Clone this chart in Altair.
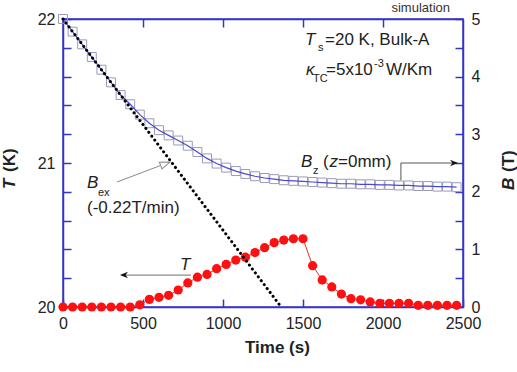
import altair as alt
import pandas as pd

FONT = "Liberation Sans"
BLUE_AXIS = "#3434c6"
BLUE_LINE = "#4a4ad0"
SQUARE_EDGE = "#9a9ab4"
RED = "#ff1010"
GREY = "#8a8a8a"
DARK = "#222222"

# simulated time grid (s)
time_s = [0, 60, 120, 180, 240, 300, 360, 420, 480, 540, 600, 660, 720, 780,
          840, 900, 960, 1020, 1080, 1140, 1200, 1260, 1320, 1380, 1440, 1500,
          1560, 1620, 1680, 1740, 1800, 1860, 1920, 1980, 2040, 2100, 2160,
          2220, 2280, 2340, 2400, 2460]

# bulk temperature T (K)
temp_K = [20.000, 20.000, 20.000, 20.000, 20.000, 20.000, 20.000, 20.000,
          20.015, 20.053, 20.067, 20.081, 20.118, 20.167, 20.207, 20.226,
          20.266, 20.296, 20.326, 20.346, 20.378, 20.412, 20.447, 20.465,
          20.474, 20.474, 20.287, 20.188, 20.139, 20.090, 20.058, 20.050,
          20.035, 20.026, 20.026, 20.026, 20.026, 20.012, 20.012, 20.012,
          20.012, 20.012]

# trapped field B_z at z = 0 mm (T)
bz_T = [5.00, 4.78, 4.56, 4.34, 4.12, 3.90, 3.68, 3.52, 3.34, 3.19, 3.07,
        2.98, 2.89, 2.80, 2.69, 2.58, 2.49, 2.42, 2.36, 2.31, 2.27, 2.24,
        2.22, 2.20, 2.19, 2.18, 2.17, 2.16, 2.15, 2.14, 2.14, 2.13, 2.13,
        2.12, 2.12, 2.11, 2.11, 2.10, 2.10, 2.09, 2.09, 2.08]

# external field ramp: starts at 5 T, falls at 0.22 T/min
bex_start_T = 5.0
bex_rate_T_per_min = 0.22
bex_end_s = bex_start_T / bex_rate_T_per_min * 60.0

x_ticks = [0, 500, 1000, 1500, 2000, 2500]
top_ticks = [500, 1000, 1500, 2000]
t_ticks = [20.0, 20.2, 20.4, 20.6, 20.8, 21.0, 21.2, 21.4, 21.6, 21.8, 22.0]
b_ticks = [0, 0.5, 1, 1.5, 2, 2.5, 3, 3.5, 4, 4.5, 5]

series = pd.DataFrame({"time": time_s, "T": temp_K, "B": bz_T})
bex = pd.DataFrame({"time": [0.0, bex_end_s], "B": [bex_start_T, 0.0]})

INT_ONLY = "abs(datum.value - round(datum.value)) < 1e-6 ? format(datum.value, 'd') : ''"


def axis(**kw):
    base = dict(domainColor=BLUE_AXIS, domainWidth=1.5, tickColor=BLUE_AXIS,
                tickWidth=1.5, tickSize={"expr": "-8"}, labelFont=FONT,
                labelFontSize=16, labelColor=DARK, labelPadding=16, grid=False,
                labelFlush=False, labelOverlap=False, title="")
    base.update(kw)
    return alt.Axis(**base)


x_scale = alt.Scale(domain=[0, 2500], nice=False, zero=False)
t_scale = alt.Scale(domain=[20, 22], nice=False, zero=False)
b_scale = alt.Scale(domain=[0, 5], nice=False, zero=False)

x_axis_bottom = axis(orient="bottom", values=x_ticks, format="d")
x_axis_top = axis(orient="top", values=top_ticks, labels=False)
t_axis = axis(orient="left", values=t_ticks, labelExpr=INT_ONLY)
b_axis = axis(orient="right", values=b_ticks, labelExpr=INT_ONLY)


def enc(yfield):
    if yfield == "T":
        return dict(x=alt.X("time:Q", scale=x_scale, axis=x_axis_bottom),
                    y=alt.Y("T:Q", scale=t_scale, axis=t_axis))
    return dict(x=alt.X("time:Q", scale=x_scale, axis=None),
                y=alt.Y("B:Q", scale=b_scale, axis=b_axis))


def text_piece(yfield, t, v, s, **kw):
    df = pd.DataFrame({"time": [t], yfield: [v], "label": [s]})
    style = dict(align="left", baseline="alphabetic", font=FONT, fontSize=17,
                 color=DARK)
    style.update(kw)
    return alt.Chart(df).mark_text(**style).encode(text="label:N", **enc(yfield))


def polyline(yfield, ts, vs, color, width=1.0):
    df = pd.DataFrame({"time": ts, yfield: vs, "k": list(range(len(ts)))})
    return alt.Chart(df).mark_line(color=color, strokeWidth=width).encode(
        order="k:O", **enc(yfield))


BARB = "M0,0L-2,-0.8L-1.4,0L-2,0.8Z"
OPEN = "M0,0L-2,-0.7L-2,0.7Z"


def head(yfield, t, v, shape, angle, size, **kw):
    df = pd.DataFrame({"time": [t], yfield: [v]})
    return alt.Chart(df).mark_point(shape=shape, angle=angle, size=size,
                                    opacity=1, **kw).encode(**enc(yfield))


# ---- temperature (left axis) ----
t_line = alt.Chart(series).mark_line(color="#e03030", strokeWidth=1).encode(**enc("T"))
t_pts = alt.Chart(series).mark_point(shape="circle", filled=True, size=85,
                                     color=RED, opacity=1).encode(**enc("T"))
temp_layer = alt.layer(
    t_line,
    t_pts,
    polyline("T", [800, 378], [20.222, 20.222], GREY, 1.2),
    head("T", 356, 20.222, BARB, 180, 64, filled=True, color="#111111"),
    text_piece("T", 731, 20.257, "T", fontStyle="italic"),
    # left axis title
    text_piece("T", -300, 20.819, "T", angle=270, fontWeight="bold", fontStyle="italic"),
    text_piece("T", -300, 20.9375, "(K)", angle=270, fontWeight="bold"),
    # bottom axis title
    text_piece("T", 1137.5, 19.681, "Time (s)", fontWeight="bold"),
)

# ---- magnetic field (right axis) ----
b_sq = alt.Chart(series).mark_point(shape="square", filled=False, size=80,
                                    color=SQUARE_EDGE, strokeWidth=1,
                                    opacity=1).encode(**enc("B"))
b_line = alt.Chart(series).mark_line(color=BLUE_LINE, strokeWidth=1.2).encode(**enc("B"))
bex_line = alt.Chart(bex).mark_line(color="black", strokeWidth=3,
                                    strokeDash=[0.1, 4.8], strokeCap="round").encode(**enc("B"))

field_layer = alt.layer(
    b_sq,
    b_line,
    bex_line,
    # B_ex label and pointer
    polyline("B", [337.5, 610], [2.17, 2.457], GREY, 1.0),
    head("B", 669, 2.517, OPEN, 339.3, 100, filled=True, fill="white",
         stroke=GREY, strokeWidth=1),
    text_piece("B", 150, 2.066, "B", fontStyle="italic"),
    text_piece("B", 218.75, 1.927, "ex", fontSize=11),
    text_piece("B", 150, 1.632, "(-0.22T/min)"),
    # B_z label and bracket
    polyline("B", [2112, 2112, 2460], [2.2, 2.5, 2.5], "#555555", 1.0),
    head("B", 2469, 2.5, BARB, 0, 64, filled=True, color="#111111"),
    text_piece("B", 1487.5, 2.431, "B", fontStyle="italic"),
    text_piece("B", 1562.5, 2.309, "z", fontSize=11),
    text_piece("B", 1625, 2.431, "("),
    text_piece("B", 1665.6, 2.431, "z", fontStyle="italic"),
    text_piece("B", 1718.75, 2.431, "=0mm)"),
    # conditions
    text_piece("B", 1512.5, 4.549, "T", fontStyle="italic"),
    text_piece("B", 1593.75, 4.444, "s", fontSize=11),
    text_piece("B", 1637.5, 4.549, "=20 K, Bulk-A"),
    text_piece("B", 1518.75, 4.028, "κ", fontStyle="italic"),
    text_piece("B", 1562.5, 3.906, "TC", fontSize=11),
    text_piece("B", 1643.75, 4.028, "=5x10"),
    text_piece("B", 1943.75, 4.167, "-3", fontSize=11),
    text_piece("B", 2018.75, 4.028, "W/Km"),
    text_piece("B", 2418.75, 5.122, "simulation", align="right", fontSize=13,
               color="#333333"),
    # right axis title
    text_piece("B", 2818.75, 2.031, "B", angle=270, fontWeight="bold", fontStyle="italic"),
    text_piece("B", 2818.75, 2.344, "(T)", angle=270, fontWeight="bold"),
)

# ---- top axis ticks ----
top_layer = alt.Chart(pd.DataFrame({"time": top_ticks})).mark_point(opacity=0).encode(
    x=alt.X("time:Q", scale=x_scale, axis=x_axis_top))

chart = (
    alt.layer(temp_layer, field_layer, top_layer)
    .resolve_scale(x="independent", y="independent")
    .properties(width=400, height=288, autosize="none",
                padding={"left": 63, "top": 19, "right": 54, "bottom": 65},
                background="white")
    .configure_view(stroke=BLUE_AXIS, strokeWidth=1.5)
)

chart.save("out.html", embed_options={"renderer": "svg", "actions": False})
